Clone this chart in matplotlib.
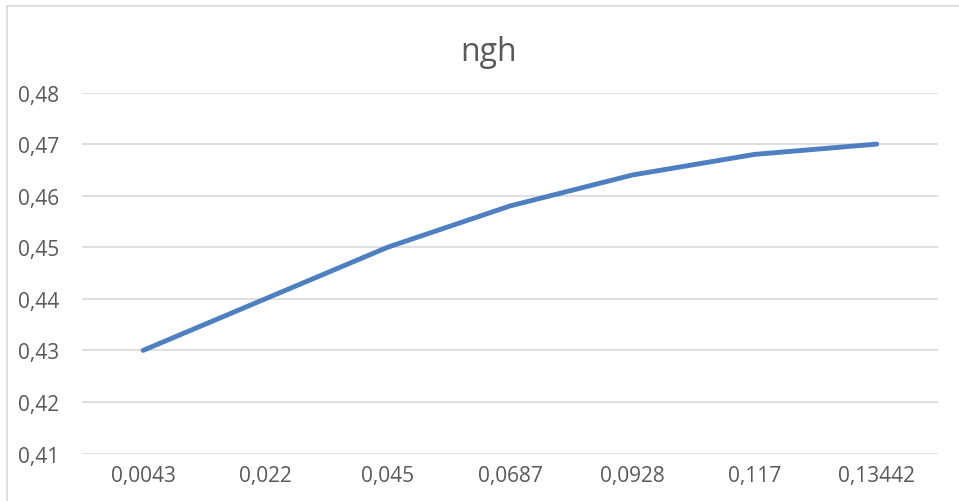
import matplotlib.pyplot as plt
from matplotlib.lines import Line2D

# ===== data =====
categories = ["0,0043", "0,022", "0,045", "0,0687", "0,0928", "0,117", "0,13442"]
values = [0.430, 0.440, 0.450, 0.458, 0.464, 0.468, 0.470]
yticks = [0.41, 0.42, 0.43, 0.44, 0.45, 0.46, 0.47, 0.48]
title = "ngh"

plt.rcParams["font.family"] = ["Open Sans", "DejaVu Sans"]
text_color = "#595959"
grid_color = "#D9D9D9"

fig = plt.figure(figsize=(9.59, 5.02), dpi=100)
ax = fig.add_axes([0.0855, 0.0946, 0.8925, 0.7191])

x = list(range(len(categories)))
ax.plot(x, values, color="#4E7FC0", lw=3.5, solid_capstyle="round", zorder=3)

ax.set_xlim(-0.5, len(categories) - 0.5)
ax.set_ylim(0.41, 0.48)
ax.set_yticks(yticks)
ax.set_yticklabels([f"{v:.2f}".replace(".", ",") for v in yticks])
ax.set_xticks(x)
ax.set_xticklabels(categories)
ax.grid(axis="y", color=grid_color, lw=1.2)
ax.set_axisbelow(True)
for s in ax.spines.values():
    s.set_visible(False)
ax.tick_params(length=0, labelsize=15, colors=text_color)
ax.tick_params(axis="y", pad=16.5)
ax.tick_params(axis="x", pad=8)

fig.text(0.509, 0.895, title, ha="center", va="center", fontsize=23, color=text_color)

# chart frame (left and top edges visible)
fig.add_artist(Line2D([0.0073, 0.0073], [0, 0.986], transform=fig.transFigure, color=grid_color, lw=1.2))
fig.add_artist(Line2D([0.0073, 1], [0.986, 0.986], transform=fig.transFigure, color=grid_color, lw=1.2))

fig.savefig("out.png", dpi=100)
plt.close(fig)
